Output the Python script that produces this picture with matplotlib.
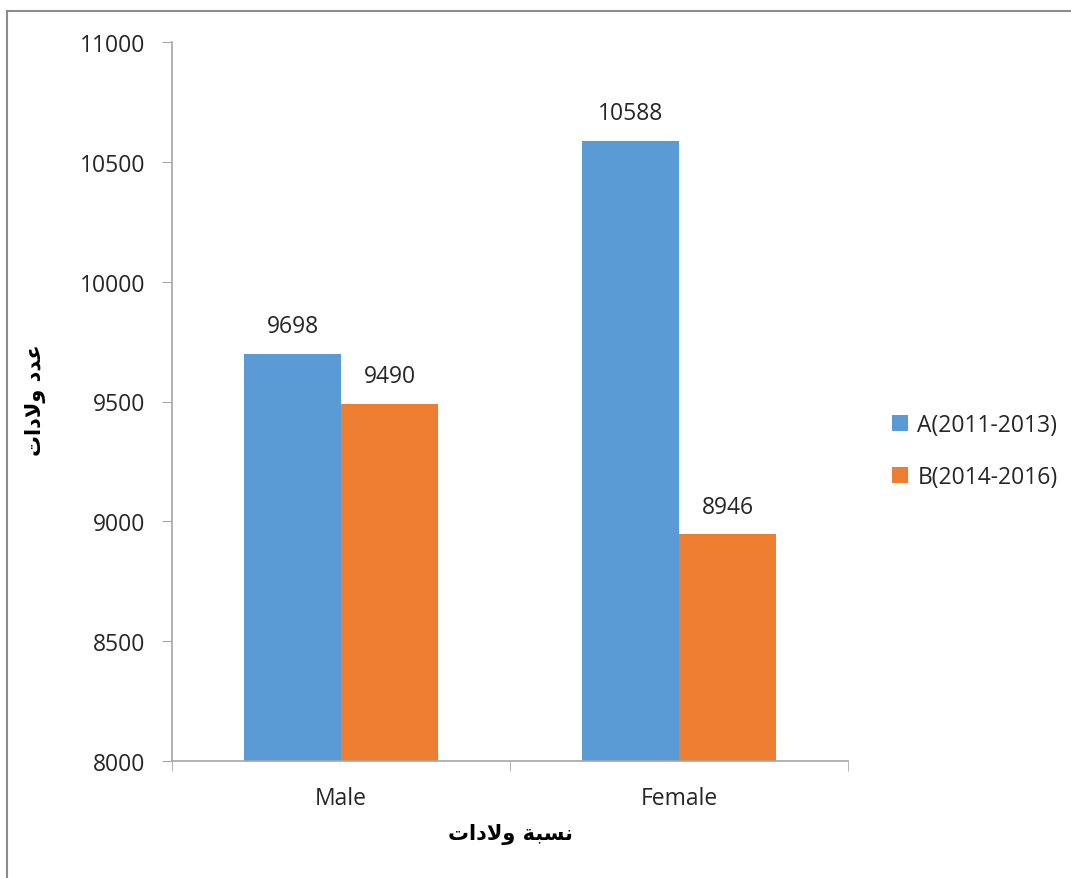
import numpy as np
import matplotlib.pyplot as plt
from matplotlib.lines import Line2D

# Data
categories = ['Male', 'Female']
series_names = ['A(2011-2013)', 'B(2014-2016)']
values_a = [9698, 10588]
values_b = [9490, 8946]
colors = ['#5B9BD5', '#ED7D31']

# Arabic labels, pre-shaped (presentation forms, visual order)
ylabel_text = '\uFE95\uFE8D\uFEA9\uFEFB\uFEED \uFEA9\uFEAA\uFECB'   # عدد ولادات
xlabel_text = '\uFE95\uFE8D\uFEA9\uFEFB\uFEED \uFE94\uFE92\uFEB4\uFEE7'  # نسبة ولادات

plt.rcParams['font.family'] = ['Open Sans', 'DejaVu Sans']
text_color = '#262626'
axis_color = '#A6A6A6'
fs = 16.5

fig = plt.figure(figsize=(10.71, 8.79), dpi=100)
ax = fig.add_axes([172/1071, 1 - 762/879, (848 - 172)/1071, (762 - 43)/879])

x = np.arange(len(categories))
width = 0.287
bars_a = ax.bar(x - width/2, values_a, width, color=colors[0], label=series_names[0])
bars_b = ax.bar(x + width/2, values_b, width, color=colors[1], label=series_names[1])

for bars in (bars_a, bars_b):
    for b in bars:
        ax.text(b.get_x() + b.get_width()/2, b.get_height() + 65, str(int(b.get_height())),
                ha='center', va='bottom', fontsize=fs, color=text_color)

ax.set_ylim(8000, 11000)
ax.set_yticks(np.arange(8000, 11001, 500))
ax.set_xlim(-0.5, 1.5)
ax.set_xticks(x)
ax.set_xticklabels(categories)
ax.set_xticks([-0.5, 0.5, 1.5], minor=True)
ax.tick_params(axis='x', which='major', length=0, pad=18, labelsize=fs, labelcolor=text_color)
ax.tick_params(axis='x', which='minor', length=7, color=axis_color, direction='out')
ax.tick_params(axis='y', length=7, color=axis_color, pad=12, labelsize=fs, labelcolor=text_color)

for s in ['top', 'right']:
    ax.spines[s].set_visible(False)
for s in ['left', 'bottom']:
    ax.spines[s].set_color(axis_color)
    ax.spines[s].set_linewidth(1.2)

fig.text(35/1071, 1 - 400/879, ylabel_text, rotation=90, ha='center', va='center',
         fontsize=15, fontweight='bold', family='DejaVu Sans', color='black')
fig.text(510/1071, 1 - 835/879, xlabel_text, ha='center', va='center',
         fontsize=15, fontweight='bold', family='DejaVu Sans', color='black')

leg = ax.legend(loc='center left', bbox_to_anchor=(1.035, (762 - 452)/719), frameon=False,
                fontsize=fs, handlelength=0.7, handleheight=0.7, handletextpad=0.4,
                labelspacing=1.2)
for t in leg.get_texts():
    t.set_color(text_color)

# outer chart border
fig.add_artist(Line2D([7/1071, 7/1071], [0, 1 - 12/879], transform=fig.transFigure,
                      color='#8C8C8C', lw=1.5))
fig.add_artist(Line2D([7/1071, 1], [1 - 12/879, 1 - 12/879], transform=fig.transFigure,
                      color='#8C8C8C', lw=1.5))

fig.savefig('out.png', dpi=100)
